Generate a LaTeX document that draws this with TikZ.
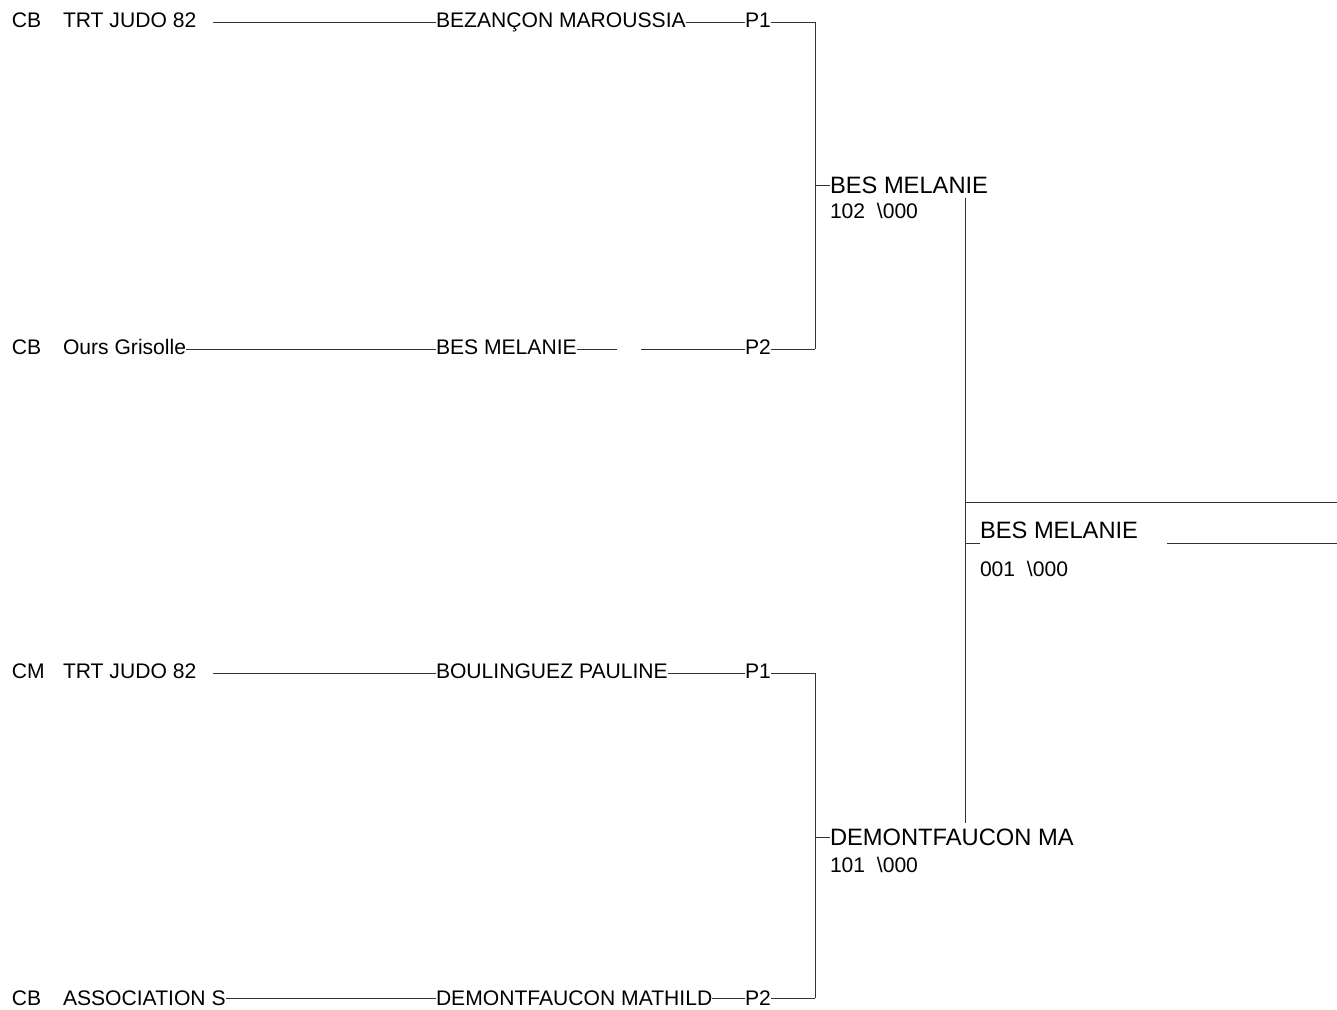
\documentclass[tikz,border=0pt]{standalone}
\usepackage{fontspec}
\setmainfont{Liberation Sans}
\begin{document}
\begin{tikzpicture}[x=1pt,y=-1pt,
  every node/.style={inner sep=0pt, outer sep=0pt, anchor=base west},
  sm/.style={font=\fontsize{21.1}{24}\selectfont},
  lg/.style={font=\fontsize{23.7}{28}\selectfont},
  ln/.style={line width=1pt, draw=black!80}]
\useasboundingbox (0,0) rectangle (1337,1009);
% row coordinates (line heights)
\coordinate (r1) at (0,22);
\coordinate (r2) at (0,349);
\coordinate (r3) at (0,673);
\coordinate (r4) at (0,998);
\coordinate (xa) at (815,0);
\coordinate (xb) at (965,0);
\coordinate (xe) at (1337,0);
% row 1
\node[sm] (cat1) at (12,27.5) {CB};
\node[sm] (club1) at (63,27.5) {TRT JUDO 82};
\node[sm] (n1) at (436,27.5) {BEZANÇON MAROUSSIA};
\node[sm] (p1a) at (745,27.5) {P1};
\coordinate (g1) at (213,22);
\draw[ln] (g1) -- (n1.west|-r1);
\draw[ln] (n1.east|-r1) -- (p1a.west|-r1);
\draw[ln] (p1a.east|-r1) -- (xa|-r1) -- (xa|-r2);
% row 2
\node[sm] (cat2) at (12,354) {CB};
\node[sm] (club2) at (63,354) {Ours Grisolle};
\node[sm] (n2) at (436,354) {BES MELANIE};
\node[sm] (p2a) at (745,354) {P2};
\coordinate (g2a) at (617,349);
\coordinate (g2b) at (641,349);
\draw[ln] (club2.east|-r2) -- (n2.west|-r2);
\draw[ln] (n2.east|-r2) -- (g2a);
\draw[ln] (g2b) -- (p2a.west|-r2);
\draw[ln] (p2a.east|-r2) -- (xa|-r2);
% winner top
\node[lg] (m1) at (830,193) {BES MELANIE};
\node[sm] (s1) at (830,218) {102~~\textbackslash000};
\coordinate (t1) at (815,185);
\draw[ln] (t1) -- (m1.west|-t1);
% row 3
\node[sm] (cat3) at (12,678.5) {CM};
\node[sm] (club3) at (63,678.5) {TRT JUDO 82};
\node[sm] (n3) at (436,678.5) {BOULINGUEZ PAULINE};
\node[sm] (p3a) at (745,678.5) {P1};
\coordinate (g3) at (213,673);
\draw[ln] (g3) -- (n3.west|-r3);
\draw[ln] (n3.east|-r3) -- (p3a.west|-r3);
\draw[ln] (p3a.east|-r3) -- (xa|-r3) -- (xa|-r4);
% row 4
\node[sm] (cat4) at (12,1005) {CB};
\node[sm] (club4) at (63,1005) {ASSOCIATION S};
\node[sm] (n4) at (436,1005) {DEMONTFAUCON MATHILD};
\node[sm] (p4a) at (745,1005) {P2};
\draw[ln] (club4.east|-r4) -- (n4.west|-r4);
\draw[ln] (n4.east|-r4) -- (p4a.west|-r4);
\draw[ln] (p4a.east|-r4) -- (xa|-r4);
% winner bottom
\node[lg] (m2) at (830,845) {DEMONTFAUCON MA};
\node[sm] (s2) at (830,872) {101~~\textbackslash000};
\coordinate (t2) at (815,837);
\draw[ln] (t2) -- (m2.west|-t2);
% final
\coordinate (v1) at (965,198);
\coordinate (v2) at (965,823);
\draw[ln] (v1) -- (v2);
\coordinate (ft) at (0,502);
\coordinate (fb) at (0,543);
\draw[ln] (xb|-ft) -- (xe|-ft);
\node[lg] (f) at (980,538) {BES MELANIE};
\node[sm] (fs) at (980,576) {001~~\textbackslash000};
\draw[ln] (xb|-fb) -- (f.west|-fb);
\coordinate (g5) at (1167,543);
\draw[ln] (g5) -- (xe|-fb);
\end{tikzpicture}
\end{document}
